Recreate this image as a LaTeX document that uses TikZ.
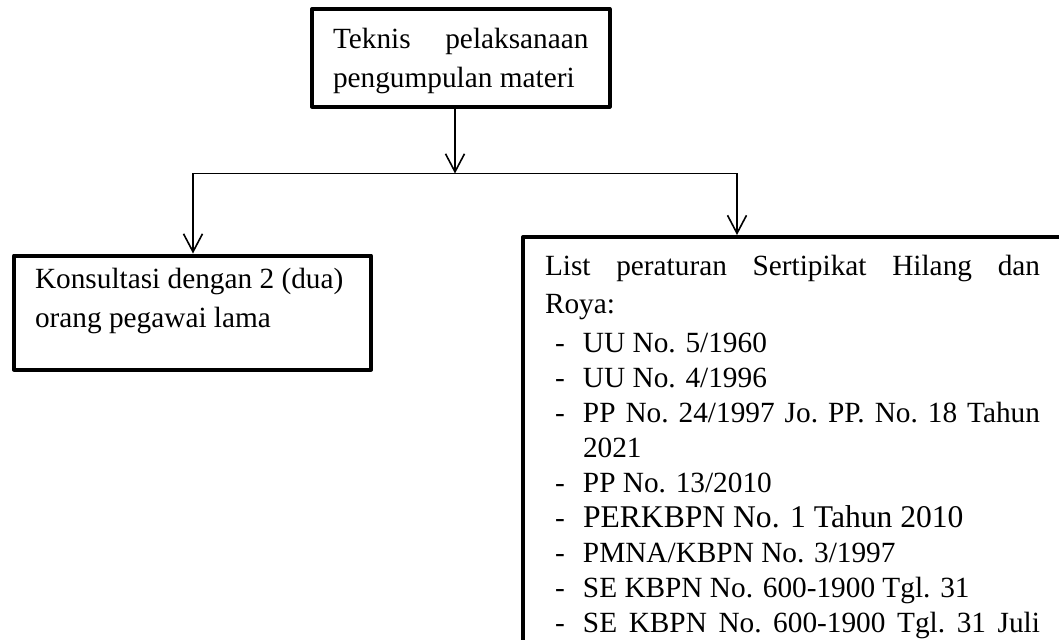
\documentclass[tikz,border=0pt]{standalone}
\usepackage{fontspec}
\setmainfont{Liberation Serif}
\usetikzlibrary{arrows.meta}
\newcommand\butir[1]{\makebox[19pt][l]{\hspace{5pt}-}#1}

\begin{document}
\begin{tikzpicture}[x=0.5pt,y=-0.5pt,
  kotak/.style={draw,line width=2pt,line join=round,inner xsep=10.5pt,inner ysep=0pt,anchor=north west},
  garis/.style={line width=0.8pt},
  every node/.style={font=\fontsize{14.65pt}{19.5pt}\selectfont}]
\useasboundingbox (0,0) rectangle (1059,639);
% kotak-kotak
\node[kotak] (teknis) at (310,7) {\parbox[c][48.75pt][t]{127.75pt}{\rule{0pt}{19.5pt}Teknis\hfill pelaksanaan\\ pengumpulan materi}};
\node[kotak] (konsul) at (12,253.5) {\parbox[c][57pt][t]{157.5pt}{\rule{0pt}{16.25pt}Konsultasi dengan 2 (dua)\\ orang pegawai lama}};
\node[kotak,inner xsep=11pt] (daftar) at (521,235) {\parbox[c][210pt][t]{247.5pt}{\fontsize{14.65pt}{17.5pt}\selectfont
  \rule{0pt}{19pt}List\hfill peraturan\hfill Sertipikat\hfill Hilang\hfill dan\\[1.5pt]
  Roya:\\[2pt]
  \butir{UU No. 5/1960}\\
  \butir{UU No. 4/1996}\\
  \butir{PP\hfill No.\hfill 24/1997\hfill Jo.\hfill PP.\hfill No.\hfill 18\hfill Tahun}\\
  \hspace*{19pt}2021\\
  \butir{PP No. 13/2010}\\
  \butir{{\fontsize{15.8pt}{17.5pt}\selectfont PERKBPN No. 1 Tahun 2010}}\\
  \butir{PMNA/KBPN No. 3/1997}\\
  \butir{SE KBPN No. 600-1900 Tgl. 31}\\
  \butir{SE\hfill KBPN\hfill No.\hfill 600-1900\hfill Tgl.\hfill 31\hfill Juli}}};
% panah
\coordinate (cabang) at (455,173.5);
\coordinate (kiri) at (193,173.5);
\coordinate (kanan) at (737,173.5);
\draw[garis,-{Straight Barb[length=9pt,width=9.5pt]}] (teknis.south -| cabang) -- (cabang);
\draw[garis,{Straight Barb[length=9pt,width=9.5pt]}-{Straight Barb[length=9pt,width=9.5pt]}]
  (kiri |- konsul.north) -- (kiri) -- (kanan) -- (kanan |- daftar.north);
\end{tikzpicture}
\end{document}
